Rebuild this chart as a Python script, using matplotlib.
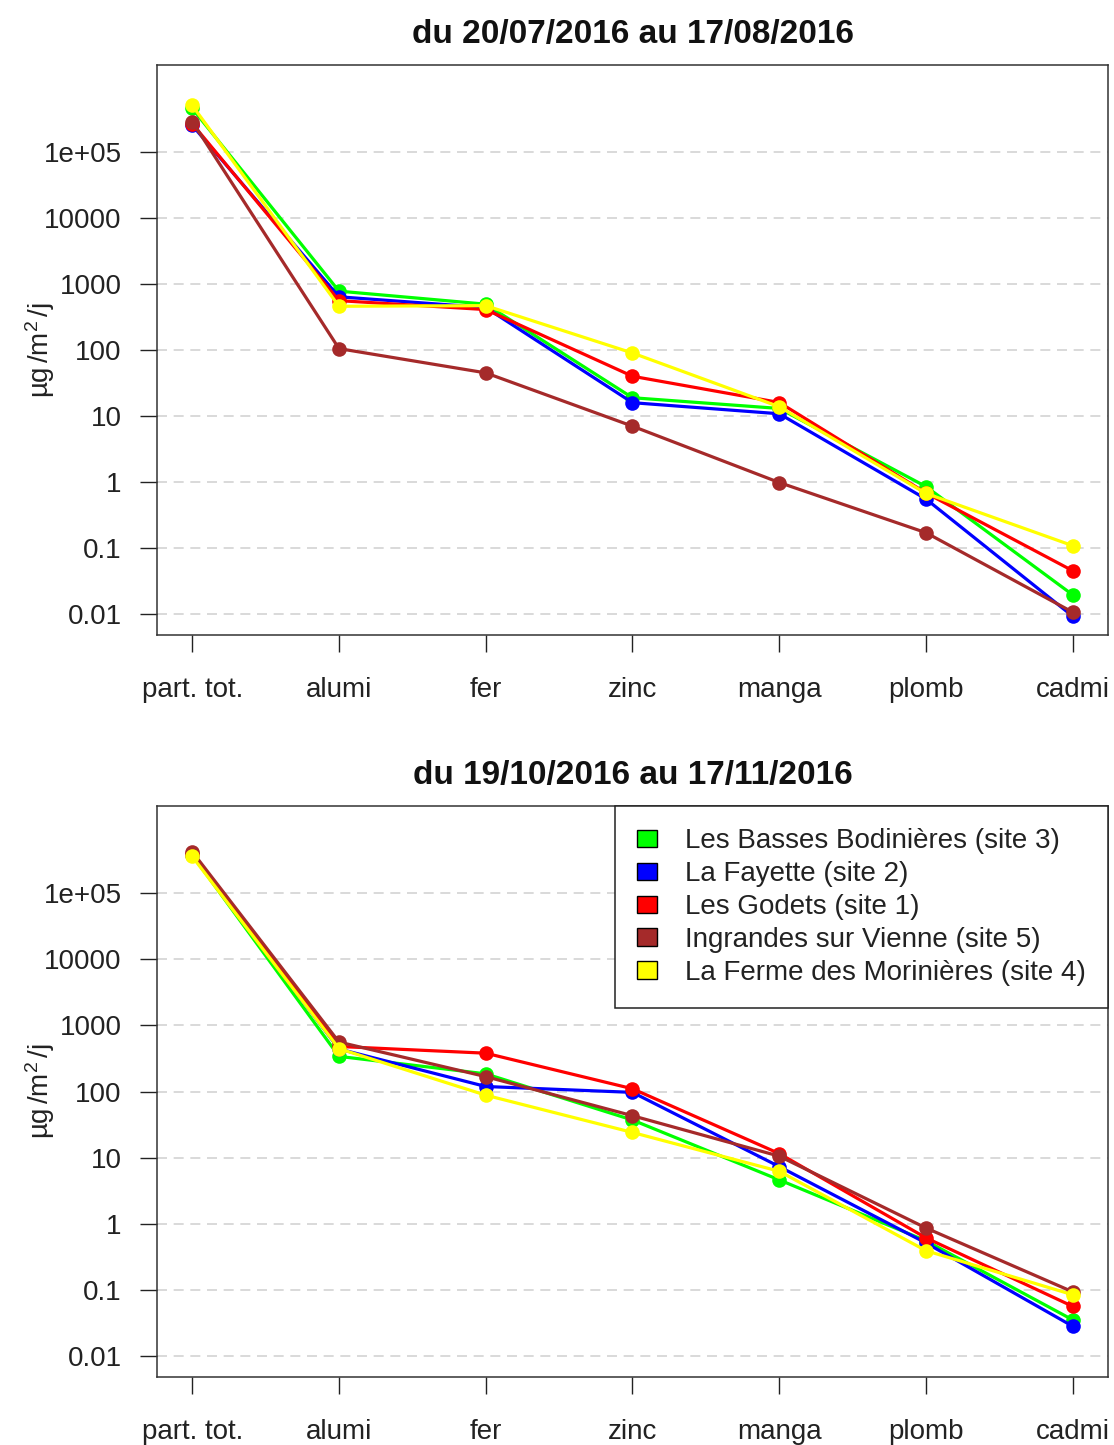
import matplotlib
matplotlib.use("Agg")
import matplotlib.pyplot as plt
from matplotlib.patches import Patch
import numpy as np

plt.rcParams['font.family'] = ['Liberation Sans', 'DejaVu Sans']
plt.rcParams['mathtext.fontset'] = 'custom'
plt.rcParams['mathtext.rm'] = 'Liberation Sans'
plt.rcParams['mathtext.it'] = 'Liberation Sans'

categories = ["part. tot.", "alumi", "fer", "zinc", "manga", "plomb", "cadmi"]
sites = ["Les Basses Bodinières (site 3)", "La Fayette (site 2)", "Les Godets (site 1)",
         "Ingrandes sur Vienne (site 5)", "La Ferme des Morinières (site 4)"]
colors = ["#00FF00", "#0000FF", "#FF0000", "#A52A2A", "#FFFF00"]

title_1 = "du 20/07/2016 au 17/08/2016"
site3_p1 = [4.6e5, 780, 495, 18.9, 13.0, 0.85, 0.0194]
site2_p1 = [2.55e5, 640, 440, 15.9, 10.8, 0.55, 0.0092]
site1_p1 = [2.7e5, 560, 410, 40.0, 16.0, 0.68, 0.045]
site5_p1 = [2.9e5, 105, 45.0, 7.0, 0.98, 0.17, 0.0106]
site4_p1 = [5.1e5, 460, 470, 90.0, 13.8, 0.67, 0.108]

title_2 = "du 19/10/2016 au 17/11/2016"
site3_p2 = [3.8e5, 340, 185, 37.0, 4.6, 0.55, 0.035]
site2_p2 = [3.8e5, 440, 119, 97.0, 7.3, 0.51, 0.028]
site1_p2 = [3.9e5, 480, 380, 110.0, 11.5, 0.61, 0.056]
site5_p2 = [4.25e5, 560, 168, 43.0, 10.5, 0.86, 0.093]
site4_p2 = [3.6e5, 445, 88, 24.0, 6.2, 0.39, 0.084]

ytick_vals = [1e5, 1e4, 1e3, 1e2, 1e1, 1, 0.1, 0.01]
ytick_labels = ["1e+05", "10000", "1000", "100", "10", "1", "0.1", "0.01"]
ylabel = "µg$\\,$/m$^{2}$$\\,$/j"

panels = [
    (title_1, [site3_p1, site2_p1, site1_p1, site5_p1, site4_p1]),
    (title_2, [site3_p2, site2_p2, site1_p2, site5_p2, site4_p2]),
]

fig = plt.figure(figsize=(11.14, 14.45), dpi=100)
W, H = 1114, 1445
boxes = [(157, 65, 1108, 635), (157, 806, 1108, 1377)]

x = np.arange(1, len(categories) + 1)
for i, ((title, series), (l, t, r, b)) in enumerate(zip(panels, boxes)):
    ax = fig.add_axes([l / W, 1 - b / H, (r - l) / W, (b - t) / H])
    for vals, c in zip(series, colors):
        ax.plot(x, vals, color=c, lw=2.3, marker='o', markersize=10.5,
                markeredgewidth=0, solid_capstyle='round', zorder=3)
    ax.set_yscale('log')
    ax.set_xlim(0.76, 7.24)
    ax.set_ylim(10 ** -2.32, 10 ** 6.32)
    ax.yaxis.set_major_locator(matplotlib.ticker.FixedLocator(ytick_vals))
    ax.yaxis.set_major_formatter(matplotlib.ticker.FixedFormatter(ytick_labels))
    ax.yaxis.set_minor_locator(matplotlib.ticker.NullLocator())
    ax.set_xticks(x)
    ax.set_xticklabels(categories)
    for v in ytick_vals:
        ax.axhline(v, color='#d3d3d3', lw=1.2, linestyle=(0, (6, 4)), zorder=1)
    ax.tick_params(axis='both', direction='out', length=12.5, width=1.0,
                   labelsize=20, color='#222222', labelcolor='#222222')
    ax.tick_params(axis='y', pad=13)
    ax.tick_params(axis='x', pad=18)
    for s in ax.spines.values():
        s.set_linewidth(1.1)
        s.set_color('#333333')
    ax.set_title(title, fontsize=24, fontweight='bold', pad=16, color='#111111')
    ax.set_ylabel(ylabel, fontsize=20, color='#222222')
    ax.yaxis.set_label_coords(-0.105, 0.5)
    if i == 1:
        handles = [Patch(facecolor=c, edgecolor='black', lw=1.0) for c in colors]
        leg = ax.legend(handles, sites, loc='upper right', fontsize=20,
                        frameon=True, fancybox=False, borderaxespad=0,
                        handlelength=0.72, handleheight=0.6, handletextpad=1.0,
                        labelspacing=0.25, borderpad=0.8, framealpha=1)
        leg.get_frame().set_edgecolor('#222222')
        leg.get_frame().set_linewidth(1.1)
        for txt in leg.get_texts():
            txt.set_color('#222222')

fig.savefig("out.png", dpi=100)
